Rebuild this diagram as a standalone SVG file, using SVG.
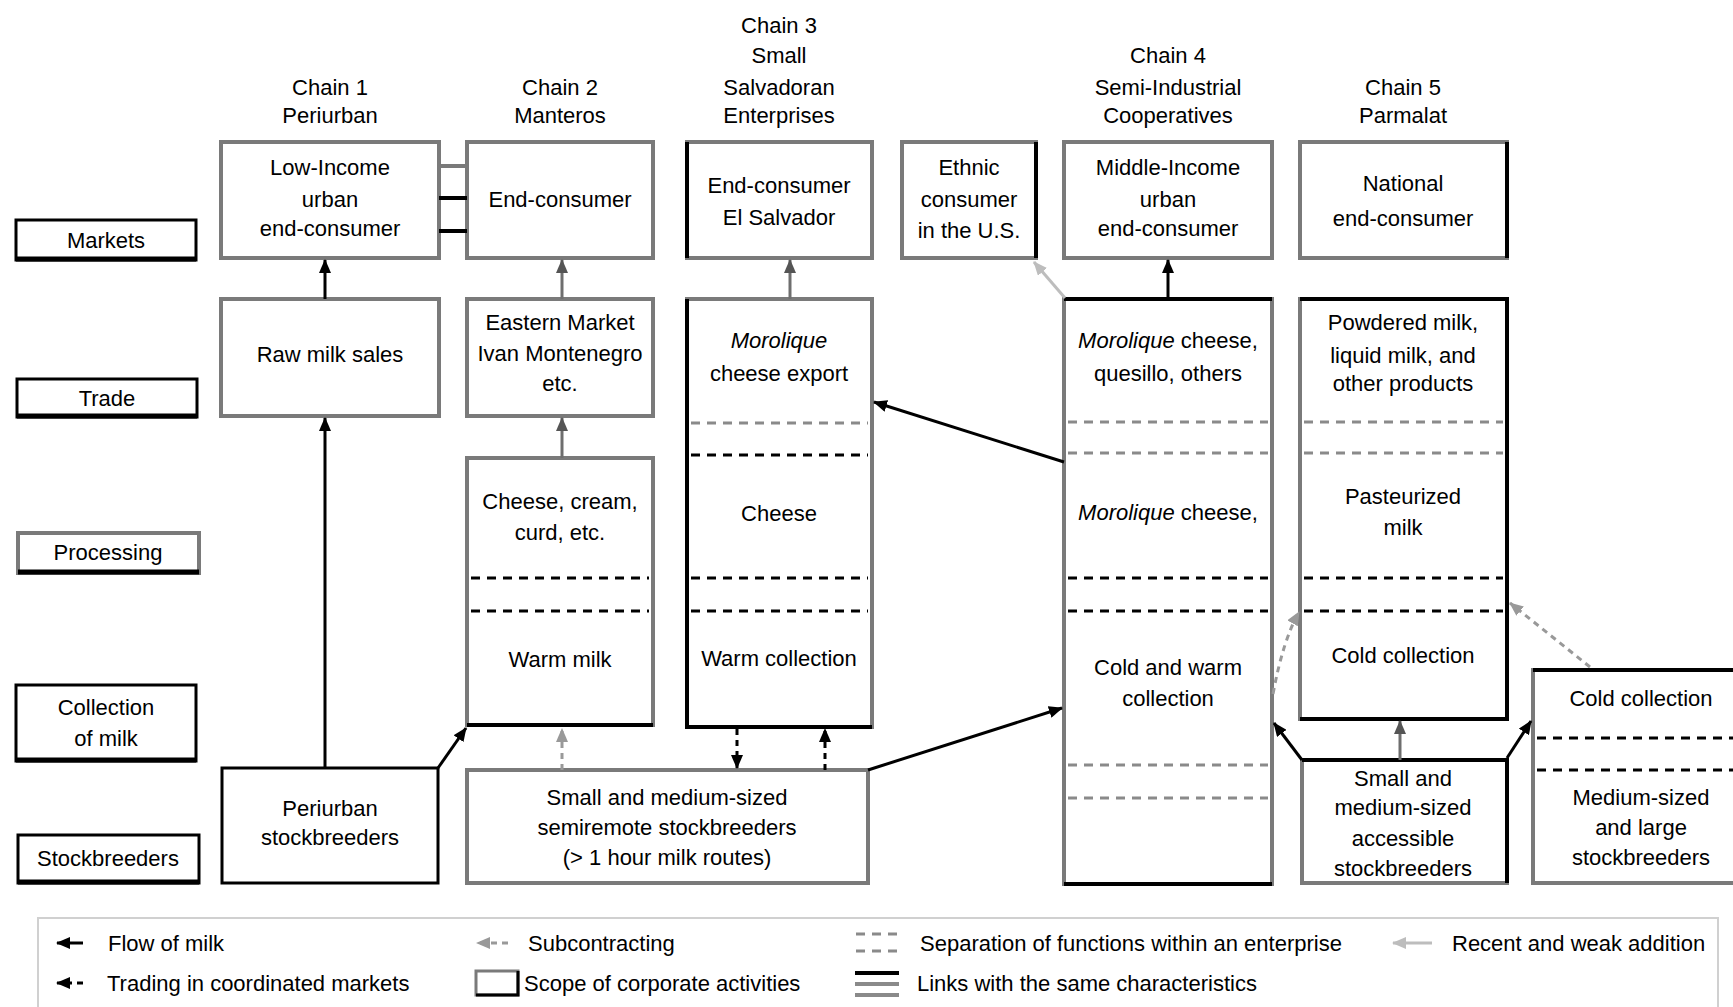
<svg xmlns="http://www.w3.org/2000/svg" width="1733" height="1007" viewBox="0 0 1733 1007">
<style>
text{font-family:"Liberation Sans",Arial,sans-serif;font-size:22px;fill:#000;text-anchor:middle}
.l{text-anchor:start}
.it{font-style:italic}
.bx{fill:#fff;stroke:#7a7a7a;stroke-width:4}
.bk{fill:none;stroke:#000;stroke-width:4}
.lb{fill:#fff;stroke:#000;stroke-width:3}
.dg{stroke:#8a8a8a;stroke-width:3;stroke-dasharray:9 7;fill:none}
.db{stroke:#000;stroke-width:3;stroke-dasharray:9 7;fill:none}
.flow{stroke:#000;stroke-width:3;fill:none}
.flowg{stroke:#6e6e6e;stroke-width:3;fill:none}
.trade{stroke:#000;stroke-width:3;stroke-dasharray:6 5;fill:none}
.sub{stroke:#999;stroke-width:3;stroke-dasharray:6 5;fill:none}
.weak{stroke:#bdbdbd;stroke-width:3;fill:none}
</style>
<defs>
<marker id="ab" markerUnits="userSpaceOnUse" markerWidth="14" markerHeight="12" refX="13" refY="6" orient="auto"><path d="M0,0 L14,6 L0,12 z" fill="#000"/></marker>
<marker id="ag" markerUnits="userSpaceOnUse" markerWidth="14" markerHeight="12" refX="13" refY="6" orient="auto"><path d="M0,0 L14,6 L0,12 z" fill="#555"/></marker>
<marker id="as" markerUnits="userSpaceOnUse" markerWidth="14" markerHeight="12" refX="13" refY="6" orient="auto"><path d="M0,0 L14,6 L0,12 z" fill="#999"/></marker>
<marker id="al" markerUnits="userSpaceOnUse" markerWidth="14" markerHeight="12" refX="13" refY="6" orient="auto"><path d="M0,0 L14,6 L0,12 z" fill="#bdbdbd"/></marker>
</defs>
<rect width="1733" height="1007" fill="#fff"/>

<!-- headers -->
<g id="headers">
<text x="330" y="95">Chain 1</text><text x="330" y="123">Periurban</text>
<text x="560" y="95">Chain 2</text><text x="560" y="123">Manteros</text>
<text x="779" y="33">Chain 3</text><text x="779" y="63">Small</text><text x="779" y="95">Salvadoran</text><text x="779" y="123">Enterprises</text>
<text x="1168" y="63">Chain 4</text><text x="1168" y="95">Semi-Industrial</text><text x="1168" y="123">Cooperatives</text>
<text x="1403" y="95">Chain 5</text><text x="1403" y="123">Parmalat</text>
</g>

<!-- row labels -->
<g id="lbl-markets"><rect class="lb" x="16" y="220" width="180" height="40"/><path d="M16,259 H196" stroke="#000" stroke-width="5"/><text x="106" y="248">Markets</text></g>
<g id="lbl-trade"><rect class="lb" x="17" y="379" width="180" height="38"/><path d="M17,416 H197" stroke="#000" stroke-width="5"/><text x="107" y="406">Trade</text></g>
<g id="lbl-processing"><rect class="bx" x="18" y="533" width="181" height="40"/><path d="M18,572 H199" stroke="#000" stroke-width="5"/><text x="108" y="560">Processing</text></g>
<g id="lbl-collection"><rect class="lb" x="16" y="685" width="180" height="76"/><path d="M16,760 H196" stroke="#000" stroke-width="5"/><text x="106" y="715">Collection</text><text x="106" y="746">of milk</text></g>
<g id="lbl-stock"><rect class="lb" x="18" y="835" width="181" height="48"/><path d="M18,882 H199" stroke="#000" stroke-width="5"/><text x="108" y="866">Stockbreeders</text></g>

<!-- markets row -->
<g id="n-lowincome"><rect class="bx" x="221" y="142" width="218" height="116"/><text x="330" y="175">Low-Income</text><text x="330" y="207">urban</text><text x="330" y="236">end-consumer</text></g>
<g id="n-endcons2"><rect class="bx" x="467" y="142" width="186" height="116"/><text x="560" y="207">End-consumer</text></g>
<g id="n-elsalvador"><rect class="bx" x="687" y="142" width="185" height="116"/><path class="bk" d="M687,142 V258"/><text x="779" y="193">End-consumer</text><text x="779" y="225">El Salvador</text></g>
<g id="n-ethnic"><rect class="bx" x="902" y="142" width="134" height="116"/><path class="bk" d="M1036,142 V258"/><text x="969" y="175">Ethnic</text><text x="969" y="207">consumer</text><text x="969" y="238">in the U.S.</text></g>
<g id="n-middle"><rect class="bx" x="1064" y="142" width="208" height="116"/><text x="1168" y="175">Middle-Income</text><text x="1168" y="207">urban</text><text x="1168" y="236">end-consumer</text></g>
<g id="n-national"><rect class="bx" x="1300" y="142" width="207" height="116"/><path class="bk" d="M1507,142 V258"/><text x="1403" y="191">National</text><text x="1403" y="226">end-consumer</text></g>

<!-- trade row and tall boxes -->
<g id="n-rawmilk"><rect class="bx" x="221" y="299" width="218" height="117"/><text x="330" y="362">Raw milk sales</text></g>
<g id="n-eastern"><rect class="bx" x="467" y="299" width="186" height="117"/><text x="560" y="330">Eastern Market</text><text x="560" y="361">Ivan Montenegro</text><text x="560" y="391">etc.</text></g>
<g id="n-chain2proc"><rect class="bx" x="467" y="458" width="186" height="267"/><path class="bk" d="M467,725 H653"/>
<path class="db" d="M471,578 H649 M471,611 H649"/>
<text x="560" y="509">Cheese, cream,</text><text x="560" y="540">curd, etc.</text><text x="560" y="667">Warm milk</text></g>
<g id="n-chain3"><rect class="bx" x="687" y="299" width="185" height="428"/><path class="bk" d="M687,299 V727 H872"/>
<path class="dg" d="M691,423 H868"/><path class="db" d="M691,455 H868 M691,578 H868 M691,611 H868"/>
<text x="779" y="348" class="it">Morolique</text><text x="779" y="381">cheese export</text>
<text x="779" y="521">Cheese</text><text x="779" y="666">Warm collection</text></g>
<g id="n-chain4"><rect class="bx" x="1064" y="299" width="208" height="585"/><path class="bk" d="M1064,299 H1272 M1064,884 H1272"/>
<path class="dg" d="M1068,422 H1268 M1068,453 H1268 M1068,765 H1268 M1068,798 H1268"/><path class="db" d="M1068,578 H1268 M1068,611 H1268"/>
<text x="1168" y="348"><tspan class="it">Morolique</tspan> cheese,</text><text x="1168" y="381">quesillo, others</text>
<text x="1168" y="520"><tspan class="it">Morolique</tspan> cheese,</text>
<text x="1168" y="675">Cold and warm</text><text x="1168" y="706">collection</text></g>
<g id="n-chain5"><rect class="bx" x="1300" y="299" width="207" height="420"/><path class="bk" d="M1300,299 H1507 V719 H1300"/>
<path class="dg" d="M1304,422 H1503 M1304,453 H1503"/><path class="db" d="M1304,578 H1503 M1304,611 H1503"/>
<text x="1403" y="330">Powdered milk,</text><text x="1403" y="363">liquid milk, and</text><text x="1403" y="391">other products</text>
<text x="1403" y="504">Pasteurized</text><text x="1403" y="535">milk</text><text x="1403" y="663">Cold collection</text></g>

<!-- stockbreeders row -->
<g id="n-periurban"><rect class="lb" x="222" y="768" width="216" height="115" stroke-width="4"/><text x="330" y="816">Periurban</text><text x="330" y="845">stockbreeders</text></g>
<g id="n-semiremote"><rect class="bx" x="467" y="770" width="401" height="113"/><text x="667" y="805">Small and medium-sized</text><text x="667" y="835">semiremote stockbreeders</text><text x="667" y="865">(&gt; 1 hour milk routes)</text></g>
<g id="n-accessible"><rect class="bx" x="1302" y="760" width="205" height="123"/><path class="bk" d="M1302,760 H1507 V883"/><text x="1403" y="786">Small and</text><text x="1403" y="815">medium-sized</text><text x="1403" y="846">accessible</text><text x="1403" y="876">stockbreeders</text></g>
<g id="n-large"><rect class="bx" x="1533" y="670" width="220" height="213"/><path class="bk" d="M1533,670 H1733"/>
<path class="db" d="M1537,738 H1733 M1537,770 H1733"/>
<text x="1641" y="706">Cold collection</text><text x="1641" y="805">Medium-sized</text><text x="1641" y="835">and large</text><text x="1641" y="865">stockbreeders</text></g>

<!-- connectors -->
<g id="connectors">
<path d="M439,166 H467" stroke="#7a7a7a" stroke-width="4"/>
<path d="M439,198 H467" stroke="#000" stroke-width="4"/>
<path d="M439,231 H467" stroke="#000" stroke-width="4"/>
<path class="flow" d="M325,299 V260" marker-end="url(#ab)"/>
<path class="flowg" d="M562,299 V260" marker-end="url(#ag)"/>
<path class="flowg" d="M790,299 V260" marker-end="url(#ag)"/>
<path class="flow" d="M1168,299 V260" marker-end="url(#ab)"/>
<path class="flow" d="M325,768 V418" marker-end="url(#ab)"/>
<path class="flowg" d="M562,458 V418" marker-end="url(#ag)"/>
<path class="flow" d="M438,768 L466,728" marker-end="url(#ab)"/>
<path class="sub" d="M562,770 V729" marker-end="url(#as)"/>
<path class="trade" d="M737,729 V768" marker-end="url(#ab)"/>
<path class="trade" d="M825,770 V729" marker-end="url(#ab)"/>
<path class="flow" d="M868,770 L1062,708" marker-end="url(#ab)"/>
<path class="flow" d="M1064,462 L874,402" marker-end="url(#ab)"/>
<path class="weak" d="M1065,298 L1034,262" marker-end="url(#al)"/>
<path class="flow" d="M1302,760 L1274,723" marker-end="url(#ab)"/>
<path class="flowg" d="M1400,760 V721" marker-end="url(#ag)"/>
<path class="flow" d="M1507,758 L1531,721" marker-end="url(#ab)"/>
<path class="sub" d="M1273,694 Q1283,640 1299,612" marker-end="url(#as)"/>
<path class="sub" d="M1590,667 L1510,603" marker-end="url(#as)"/>
</g>

<!-- legend -->
<g id="legend">
<rect x="38" y="918" width="1680" height="100" fill="none" stroke="#d0d0d0" stroke-width="2"/>
<path class="flow" d="M83,943 H57" marker-end="url(#ab)"/>
<text class="l" x="108" y="951">Flow of milk</text>
<path class="trade" d="M83,983 H57" marker-end="url(#ab)"/>
<text class="l" x="107" y="991">Trading in coordinated markets</text>
<path class="sub" d="M508,943 H477" marker-end="url(#as)"/>
<text class="l" x="528" y="951">Subcontracting</text>
<rect x="476" y="971" width="42" height="24" fill="#fff" stroke="#7a7a7a" stroke-width="3"/>
<path d="M476,995 H518 V971" fill="none" stroke="#000" stroke-width="3"/>
<text class="l" x="524" y="991">Scope of corporate activities</text>
<path class="dg" d="M856,934 H900 M856,951 H900" stroke-dasharray="8 7" stroke="#aaa"/>
<text class="l" x="920" y="951">Separation of functions within an enterprise</text>
<path d="M855,973 H899" stroke="#000" stroke-width="4"/>
<path d="M855,984 H899" stroke="#8a8a8a" stroke-width="4"/>
<path d="M855,995 H899" stroke="#8a8a8a" stroke-width="4"/>
<text class="l" x="917" y="991">Links with the same characteristics</text>
<path class="weak" d="M1432,943 H1393" marker-end="url(#al)"/>
<text class="l" x="1452" y="951">Recent and weak addition</text>
</g>
</svg>
